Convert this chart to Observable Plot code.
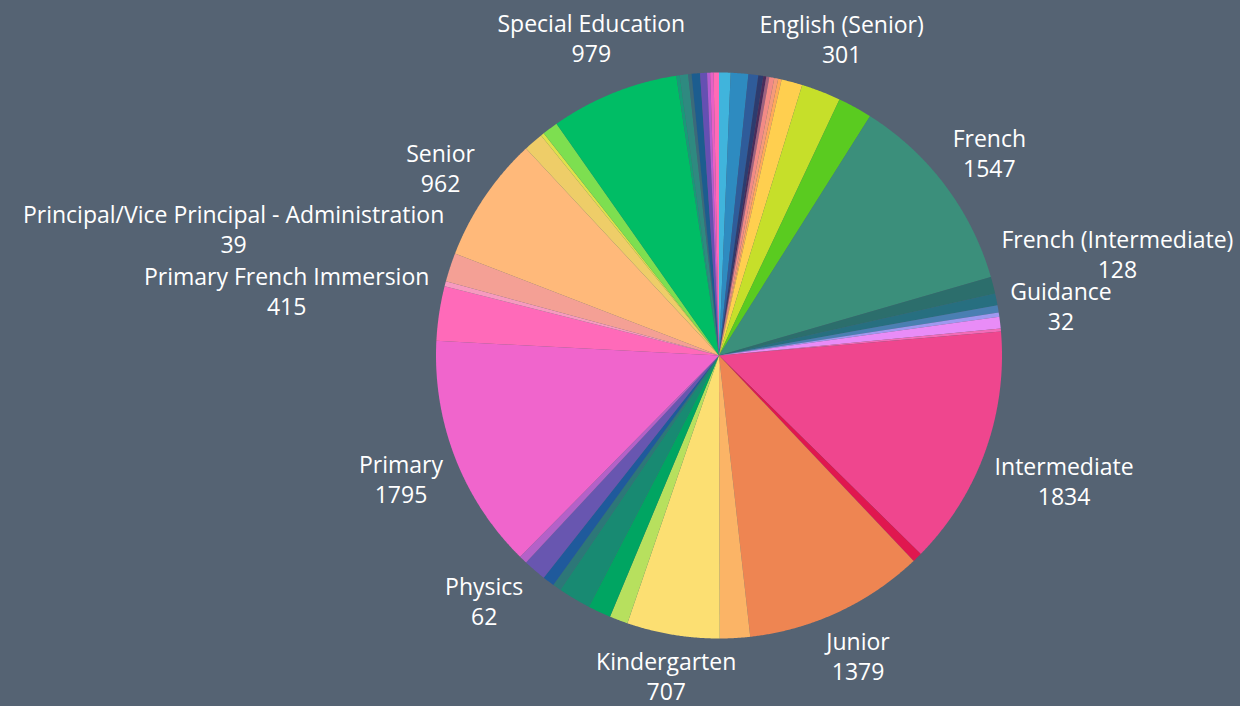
<!DOCTYPE html>
<html>
<head>
<meta charset="utf-8">
<script src="https://cdn.jsdelivr.net/npm/d3@7"></script>
<script src="https://cdn.jsdelivr.net/npm/@observablehq/plot@0.6"></script>
<style>
  html, body { margin: 0; padding: 0; background: #556373; overflow: hidden; }
  #chart svg { display: block; }
</style>
</head>
<body>
<div id="chart"></div>
<script>
// ---- Data (clockwise from 12 o'clock; "" = slice without a visible label) ----
const categories = [
  "", "", "", "", "", "", "", "", "", "",
  "English (Senior)", "",
  "French", "French (Intermediate)", "", "",
  "Guidance", "", "",
  "Intermediate", "",
  "Junior", "",
  "Kindergarten", "", "", "", "", "", "",
  "Physics", "Primary", "Primary French Immersion",
  "Principal/Vice Principal - Administration", "",
  "Senior", "", "", "",
  "Special Education", "", "", "", "", "", "", "", ""
];
const values = [
  88, 134, 75, 38, 23, 23, 38, 30, 26, 160,
  301, 262,
  1547, 128, 90, 55,
  32, 90, 23,
  1834, 75,
  1379, 230,
  707, 140, 175, 250, 65, 90, 175,
  62, 1795, 415,
  39, 220,
  962, 150, 25, 120,
  979, 26, 64, 26, 64, 53, 23, 26, 41
];
const colors = [
  "#40b4dc", "#2e8bc0", "#2f5c9a", "#2d3b6e", "#4a2c5a", "#a0607e", "#f28a86", "#f59a7a", "#ffa95a", "#ffcf4f",
  "#c6df2a", "#5acb20",
  "#3b8f7b", "#2c6e6c", "#276f80", "#4a7fb2",
  "#9f98f0", "#e98cf7", "#f36bb8",
  "#ef468e", "#e0174f",
  "#ee8552", "#fbb466",
  "#fcdf72", "#b7e05e", "#00a562", "#188a72", "#2d7778", "#1f5a9c", "#6856b0",
  "#b461c8", "#f065cc", "#ff6ab9",
  "#f79ac0", "#f4a095",
  "#ffb97a", "#eecd68", "#dfe24a", "#7ddf50",
  "#00bd65", "#179a78", "#2e8a80", "#3b6a7a", "#1c5d8f", "#6550b2", "#b25dd2", "#e85fc6", "#ff6bb6"
];

// ---- Layout ----
const W = 1240, H = 706;
const CX = 718.5, CY = 355, R = 283;     // pie centre and radius in pixels
const GAP = 292;                          // nearest edge of a label box from centre
const FONT = 23, LINE = 30, FAMILY = "Open Sans";

const arcs = d3.pie().sort(null).value(d => d)(values);

// polygon outline of each slice in unit-radius coordinates
const pts = [];
arcs.forEach((a, i) => {
  const a0 = a.startAngle, a1 = a.endAngle;
  const n = Math.max(2, Math.ceil((a1 - a0) / (Math.PI / 720)));
  pts.push({k: i, c: colors[i], x: 0, y: 0});
  for (let j = 0; j <= n; j++) {
    const t = a0 + (a1 - a0) * j / n;
    pts.push({k: i, c: colors[i], x: Math.sin(t), y: Math.cos(t)});
  }
  pts.push({k: i, c: colors[i], x: 0, y: 0});
});

// labels: box pushed out along the mid-angle until its nearest edge is GAP px away
const ctx = document.createElement("canvas").getContext("2d");
ctx.font = `${FONT}px "${FAMILY}"`;
const labels = [];
arcs.forEach((a, i) => {
  const name = categories[i];
  if (!name) return;
  const txt = `${name}\n${values[i]}`;
  const w = Math.max(ctx.measureText(name).width, ctx.measureText(String(values[i])).width);
  const h = LINE * 2 - 4;
  const m = (a.startAngle + a.endAngle) / 2;
  const s = Math.sin(m), c = Math.cos(m);
  const dist = d => {
    const dx = Math.max(0, Math.abs(d * s) - w / 2);
    const dy = Math.max(0, Math.abs(d * c) - h / 2);
    return Math.hypot(dx, dy);
  };
  let lo = 0, hi = 1200;
  for (let k = 0; k < 60; k++) { const mid = (lo + hi) / 2; if (dist(mid) < GAP) lo = mid; else hi = mid; }
  labels.push({x: lo * s / R, y: lo * c / R, text: txt});
});

const chart = Plot.plot({
  width: W,
  height: H,
  margin: 0,
  style: {background: "transparent", fontFamily: FAMILY},
  x: {domain: [-CX / R, (W - CX) / R], axis: null},
  y: {domain: [-(H - CY) / R, CY / R], axis: null},
  color: {type: "identity"},
  marks: [
    Plot.line(pts, {x: "x", y: "y", z: "k", fill: "c", stroke: "none", curve: "linear"}),
    Plot.text(labels, {
      x: "x", y: "y", text: "text",
      fill: "white", fontSize: FONT, fontFamily: FAMILY,
      lineHeight: LINE / FONT, textAnchor: "middle", lineAnchor: "middle"
    })
  ]
});
document.getElementById("chart").appendChild(chart);
</script>
</body>
</html>
